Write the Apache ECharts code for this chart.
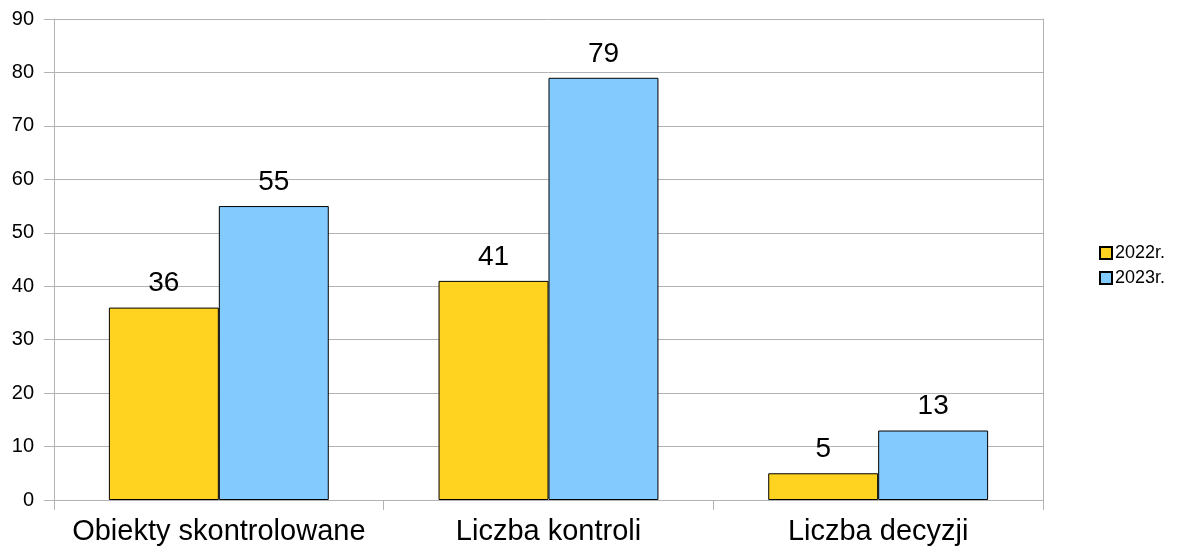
<!DOCTYPE html>
<html>
<head>
<meta charset="utf-8">
<script src="https://cdn.jsdelivr.net/npm/echarts@6/dist/echarts.min.js"></script>
<style>
  html, body { margin: 0; padding: 0; background: #fff; }
  #chart { width: 1185px; height: 553px; }
</style>
</head>
<body>
<div id="chart"></div>
<script>
// dane z wykresu
const categories = ['Obiekty skontrolowane', 'Liczba kontroli', 'Liczba decyzji'];
const values2022 = [36, 41, 5];
const values2023 = [55, 79, 13];
const seriesNames = ['2022r.', '2023r.'];

const chart = echarts.init(document.getElementById('chart'));

const labelStyle = {
  show: true,
  position: 'top',
  color: '#000',
  fontFamily: 'Liberation Sans',
  fontSize: 28,
  distance: 10
};

chart.setOption({
  animation: false,
  textStyle: { fontFamily: 'Liberation Sans' },
  grid: { left: 54, right: 142, top: 19, bottom: 53 },
  legend: {
    orient: 'vertical',
    left: 1099,
    top: 244,
    padding: 0,
    itemWidth: 12,
    itemHeight: 12,
    itemGap: 7,
    icon: 'rect',
    textStyle: { fontSize: 18, color: '#000', fontFamily: 'Liberation Sans', padding: [0, 0, 0, -2] },
    data: seriesNames
  },
  xAxis: {
    type: 'category',
    data: categories,
    axisLine: { lineStyle: { color: '#b3b3b3' } },
    axisTick: { show: true, interval: 0, length: 10, lineStyle: { color: '#b3b3b3' } },
    axisLabel: { color: '#000', fontSize: 29, margin: 17, interval: 0 }
  },
  yAxis: [
    {
      type: 'value',
      min: 0,
      max: 90,
      interval: 10,
      axisLine: { show: true, lineStyle: { color: '#b3b3b3' } },
      axisTick: { show: true, length: 10, lineStyle: { color: '#b3b3b3' } },
      axisLabel: { color: '#000', fontSize: 20, margin: 20 },
      splitLine: { lineStyle: { color: '#b3b3b3' } }
    },
    {
      type: 'value',
      position: 'right',
      min: 0,
      max: 90,
      interval: 10,
      axisLine: { show: true, lineStyle: { color: '#b3b3b3' } },
      axisTick: { show: false },
      axisLabel: { show: false },
      splitLine: { show: false }
    }
  ],
  series: [
    {
      name: seriesNames[0],
      type: 'bar',
      data: values2022,
      barGap: '0%',
      barCategoryGap: '33.3%',
      itemStyle: { color: '#ffd320', borderColor: '#000', borderWidth: 1 },
      label: labelStyle
    },
    {
      name: seriesNames[1],
      type: 'bar',
      data: values2023,
      barGap: '0%',
      barCategoryGap: '33.3%',
      itemStyle: { color: '#83caff', borderColor: '#000', borderWidth: 1 },
      label: labelStyle
    }
  ]
});
</script>
</body>
</html>
